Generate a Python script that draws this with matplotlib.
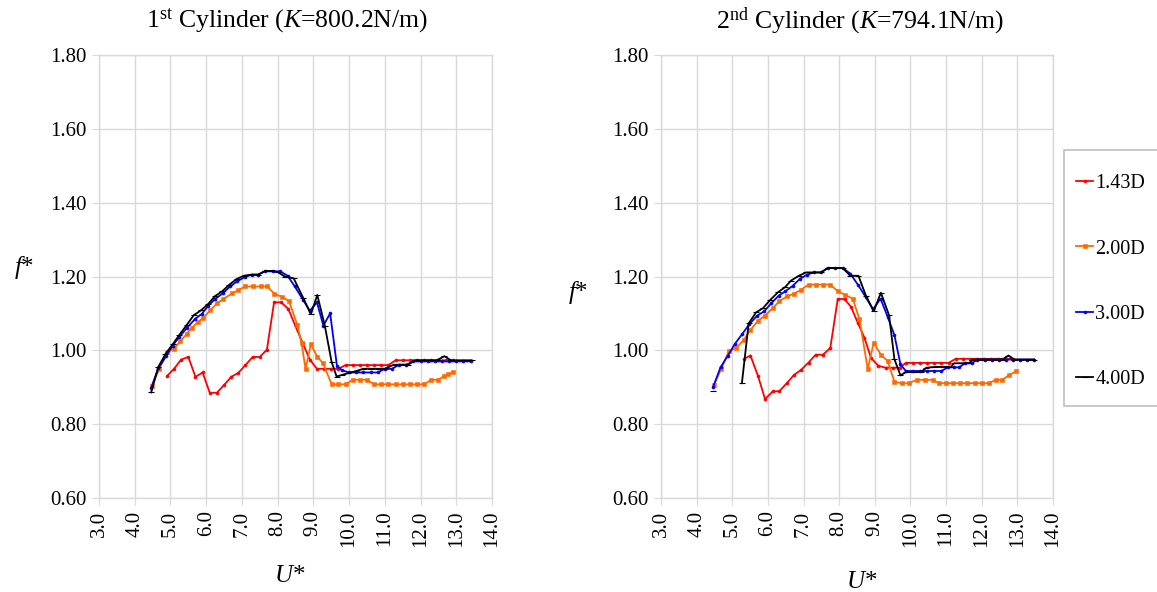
"""Natural frequency ratio f* vs reduced velocity U* for two cylinders."""

import matplotlib

matplotlib.use("Agg")
import matplotlib.pyplot as plt
import numpy as np
from matplotlib.patches import Rectangle

plt.rcParams["font.family"] = ["Liberation Serif", "DejaVu Serif"]
plt.rcParams["mathtext.fontset"] = "custom"
plt.rcParams["mathtext.rm"] = "Liberation Serif"
plt.rcParams["mathtext.it"] = "Liberation Serif:italic"

W, H = 1157, 592

LABELS = ["1.43D", "2.00D", "3.00D", "4.00D"]
TITLES = ["1$^{\\rm st}$ Cylinder ($K$=800.2N/m)", "2$^{\\rm nd}$ Cylinder ($K$=794.1N/m)"]
X_TICKS = [3.0, 4.0, 5.0, 6.0, 7.0, 8.0, 9.0, 10.0, 11.0, 12.0, 13.0, 14.0]
Y_TICKS = [0.60, 0.80, 1.00, 1.20, 1.40, 1.60, 1.80]

# ---- 1st cylinder ----
u_red_1 = [4.9, 5.1, 5.3, 5.5, 5.7, 5.9, 6.1, 6.3, 6.5, 6.7, 6.9, 7.1, 7.3, 7.5, 7.7, 7.9, 8.1, 8.3, 8.5, 8.7,
           8.9, 9.1, 9.3, 9.5, 9.7, 9.9, 10.1, 10.3, 10.5, 10.7, 10.9, 11.1, 11.3, 11.5, 11.7, 11.9, 12.1, 12.3,
           12.5, 12.7, 12.9]
f_red_1 = [0.930, 0.950, 0.975, 0.982, 0.928, 0.940, 0.885, 0.885, 0.906, 0.928, 0.939, 0.960, 0.982, 0.982,
           1.002, 1.130, 1.130, 1.112, 1.065, 1.020, 0.975, 0.950, 0.950, 0.950, 0.950, 0.960, 0.960, 0.960,
           0.960, 0.960, 0.960, 0.960, 0.973, 0.973, 0.973, 0.973, 0.973, 0.973, 0.973, 0.973, 0.973]

u_org_1 = [4.48, 4.69, 4.91, 5.10, 5.27, 5.46, 5.60, 5.76, 5.92, 6.11, 6.30, 6.48, 6.72, 6.90, 7.09, 7.32, 7.53,
           7.71, 7.91, 8.12, 8.32, 8.55, 8.67, 8.78, 8.93, 9.11, 9.27, 9.51, 9.69, 9.90, 10.10, 10.30, 10.50,
           10.70, 10.90, 11.10, 11.30, 11.50, 11.70, 11.90, 12.10, 12.30, 12.50, 12.65, 12.78, 12.90]
f_org_1 = [0.904, 0.950, 0.995, 1.004, 1.024, 1.045, 1.061, 1.076, 1.088, 1.108, 1.127, 1.139, 1.154, 1.163,
           1.173, 1.173, 1.173, 1.173, 1.153, 1.145, 1.133, 1.069, 1.019, 0.950, 1.016, 0.983, 0.965, 0.908,
           0.908, 0.908, 0.920, 0.920, 0.920, 0.908, 0.908, 0.908, 0.908, 0.908, 0.908, 0.908, 0.908, 0.920,
           0.920, 0.930, 0.935, 0.940]

u_blu_1 = [4.46, 4.66, 4.88, 5.06, 5.25, 5.46, 5.69, 5.88, 6.06, 6.25, 6.46, 6.67, 6.87, 7.09, 7.28, 7.46, 7.65,
           7.87, 8.07, 8.28, 8.48, 8.71, 8.90, 9.10, 9.28, 9.47, 9.66, 9.80, 10.00, 10.20, 10.40, 10.60, 10.80,
           11.00, 11.20, 11.40, 11.60, 11.80, 12.00, 12.20, 12.40, 12.60, 12.80, 13.00, 13.20, 13.42]
f_blu_1 = [0.898, 0.952, 0.984, 1.013, 1.036, 1.061, 1.085, 1.099, 1.121, 1.139, 1.154, 1.173, 1.187, 1.199,
           1.205, 1.205, 1.214, 1.214, 1.214, 1.202, 1.173, 1.137, 1.107, 1.130, 1.067, 1.100, 0.958, 0.946,
           0.940, 0.940, 0.940, 0.940, 0.940, 0.950, 0.950, 0.961, 0.961, 0.970, 0.970, 0.970, 0.970, 0.970,
           0.970, 0.970, 0.970, 0.970]

u_blk_1 = [4.46, 4.66, 4.86, 5.06, 5.25, 5.45, 5.65, 5.85, 6.05, 6.25, 6.45, 6.65, 6.85, 7.05, 7.25, 7.45, 7.65,
           7.85, 8.00, 8.20, 8.45, 8.71, 8.93, 9.11, 9.32, 9.51, 9.65, 9.79, 9.97, 10.20, 10.40, 10.60, 10.80,
           11.00, 11.25, 11.45, 11.65, 11.85, 12.05, 12.25, 12.45, 12.67, 12.85, 13.05, 13.25, 13.43]
f_blk_1 = [0.886, 0.955, 0.990, 1.016, 1.042, 1.068, 1.095, 1.108, 1.125, 1.147, 1.160, 1.178, 1.193, 1.202,
           1.205, 1.205, 1.215, 1.215, 1.212, 1.200, 1.195, 1.143, 1.098, 1.150, 1.067, 0.969, 0.929, 0.933,
           0.938, 0.944, 0.950, 0.950, 0.950, 0.950, 0.961, 0.961, 0.961, 0.973, 0.973, 0.973, 0.973, 0.984,
           0.973, 0.973, 0.973, 0.973]

# ---- 2nd cylinder ----
u_red_2 = [5.33, 5.51, 5.72, 5.92, 6.14, 6.32, 6.53, 6.73, 6.93, 7.14, 7.34, 7.54, 7.75, 7.96, 8.15, 8.33, 8.52,
           8.71, 8.89, 9.10, 9.30, 9.50, 9.70, 9.87, 10.07, 10.27, 10.47, 10.67, 10.87, 11.07, 11.27, 11.47,
           11.67, 11.87, 12.07, 12.27, 12.47, 12.67, 12.87]
f_red_2 = [0.977, 0.986, 0.931, 0.868, 0.889, 0.889, 0.911, 0.933, 0.947, 0.967, 0.988, 0.988, 1.006, 1.139,
           1.139, 1.118, 1.075, 1.034, 0.980, 0.958, 0.953, 0.953, 0.953, 0.966, 0.966, 0.966, 0.966, 0.966,
           0.966, 0.966, 0.977, 0.977, 0.977, 0.977, 0.977, 0.977, 0.977, 0.977, 0.977]

u_org_2 = [4.49, 4.69, 4.90, 5.11, 5.32, 5.51, 5.72, 5.92, 6.14, 6.32, 6.53, 6.73, 6.93, 7.14, 7.34, 7.54, 7.75,
           7.96, 8.15, 8.38, 8.57, 8.80, 8.97, 9.17, 9.36, 9.55, 9.75, 9.95, 10.18, 10.40, 10.62, 10.80, 11.00,
           11.20, 11.40, 11.60, 11.80, 12.00, 12.20, 12.39, 12.58, 12.77, 12.96]
f_org_2 = [0.907, 0.950, 0.997, 1.006, 1.028, 1.055, 1.080, 1.094, 1.115, 1.133, 1.146, 1.153, 1.164, 1.178,
           1.178, 1.178, 1.178, 1.160, 1.151, 1.140, 1.084, 0.950, 1.020, 0.988, 0.971, 0.915, 0.911, 0.911,
           0.920, 0.920, 0.920, 0.911, 0.911, 0.911, 0.911, 0.911, 0.911, 0.911, 0.911, 0.920, 0.920, 0.933,
           0.943]

u_blu_2 = [4.46, 4.67, 4.88, 5.07, 5.27, 5.48, 5.70, 5.90, 6.09, 6.30, 6.49, 6.70, 6.89, 7.10, 7.29, 7.49, 7.68,
           7.89, 8.10, 8.31, 8.53, 8.74, 8.95, 9.16, 9.36, 9.55, 9.72, 9.87, 10.07, 10.27, 10.47, 10.67, 10.87,
           11.05, 11.22, 11.37, 11.53, 11.72, 11.88, 12.08, 12.28, 12.48, 12.68, 12.88, 13.08, 13.28, 13.47]
f_blu_2 = [0.900, 0.954, 0.986, 1.017, 1.043, 1.071, 1.094, 1.106, 1.127, 1.148, 1.160, 1.175, 1.193, 1.205,
           1.211, 1.211, 1.223, 1.223, 1.223, 1.208, 1.177, 1.145, 1.111, 1.140, 1.091, 1.041, 0.962, 0.944,
           0.944, 0.944, 0.944, 0.944, 0.944, 0.954, 0.954, 0.954, 0.965, 0.965, 0.975, 0.975, 0.975, 0.975,
           0.975, 0.975, 0.975, 0.975, 0.975]

# first point is isolated (no data between 4.5 and 5.3)
u_blk_2 = [4.46, np.nan, 5.27, 5.46, 5.67, 5.86, 6.07, 6.28, 6.48, 6.65, 6.87, 7.07, 7.29, 7.49, 7.68, 7.89,
           8.10, 8.31, 8.54, 8.75, 8.97, 9.17, 9.40, 9.55, 9.72, 9.87, 10.08, 10.29, 10.45, 10.70, 10.92, 11.13,
           11.23, 11.44, 11.65, 11.74, 11.95, 12.16, 12.37, 12.58, 12.75, 12.91, 13.10, 13.29, 13.47]
f_blk_2 = [0.889, np.nan, 0.911, 1.073, 1.103, 1.114, 1.137, 1.157, 1.171, 1.189, 1.202, 1.211, 1.211, 1.211,
           1.223, 1.223, 1.223, 1.202, 1.202, 1.148, 1.106, 1.156, 1.095, 0.976, 0.932, 0.941, 0.941, 0.941,
           0.953, 0.955, 0.955, 0.955, 0.965, 0.965, 0.965, 0.975, 0.975, 0.975, 0.975, 0.975, 0.986, 0.975,
           0.975, 0.975, 0.975]

PANELS = [
    [(u_red_1, f_red_1), (u_org_1, f_org_1), (u_blu_1, f_blu_1), (u_blk_1, f_blk_1)],
    [(u_red_2, f_red_2), (u_org_2, f_org_2), (u_blu_2, f_blu_2), (u_blk_2, f_blk_2)],
]

COLORS = ["#FF0000", "#FF6A00", "#0000FF", "#000000"]
MARKERS = ["o", "s", "o", "_"]
MSIZES = [2.2, 2.4, 2.2, 4.5]
GRID = "#D9D9D9"


def px_rect(x0, x1, y0, y1):
    return [x0 / W, 1 - y1 / H, (x1 - x0) / W, (y1 - y0) / H]


def draw_panel(ax, series):
    handles = []
    for (u, f), c, m, ms in zip(series, COLORS, MARKERS, MSIZES):
        (ln,) = ax.plot(u, f, color=c, marker=m, markersize=ms, linewidth=1.3,
                        markeredgewidth=0.8 if m == "_" else 0.4, zorder=3)
        handles.append(ln)
    ax.set_xlim(3, 14)
    ax.set_ylim(0.6, 1.8)
    ax.set_xticks(X_TICKS)
    ax.set_xticklabels([f"{v:.1f}" for v in X_TICKS], rotation=90)
    ax.set_yticks(Y_TICKS)
    ax.set_yticklabels([f"{v:.2f}" for v in Y_TICKS])
    ax.grid(True, color=GRID, linewidth=1.0)
    ax.set_axisbelow(True)
    for sp in ax.spines.values():
        sp.set_color(GRID)
        sp.set_linewidth(1.0)
    ax.tick_params(length=5, color=GRID, labelsize=15, pad=4)
    return handles


fig = plt.figure(figsize=(W / 100, H / 100), dpi=100)
ax1 = fig.add_axes(px_rect(99, 492, 55, 498))
ax2 = fig.add_axes(px_rect(661, 1053, 55, 498))

handles = draw_panel(ax1, PANELS[0])
draw_panel(ax2, PANELS[1])

fig.text(287 / W, 1 - 21 / H, TITLES[0], ha="center", va="center", fontsize=18.5)
fig.text(860 / W, 1 - 21 / H, TITLES[1], ha="center", va="center", fontsize=18.5)
fig.text(24 / W, 1 - 268 / H, "$f$*", ha="center", va="center", fontsize=18)
fig.text(578 / W, 1 - 293 / H, "$f$*", ha="center", va="center", fontsize=18)
fig.text(290 / W, 1 - 576 / H, "$U$*", ha="center", va="center", fontsize=18)
fig.text(862 / W, 1 - 582 / H, "$U$*", ha="center", va="center", fontsize=18)

# legend box runs off the right edge of the figure, as in the source
fig.patches.append(Rectangle((1064 / W, 1 - 406 / H), 110 / W, 256 / H, transform=fig.transFigure,
                             facecolor="white", edgecolor="#BFBFBF", linewidth=1.2, zorder=1))
fig.legend(handles, LABELS, loc="upper left", bbox_to_anchor=(1076 / W, 1 - 174 / H),
           frameon=False, fontsize=14.5, handlelength=0.85, handletextpad=0.1, labelspacing=2.3,
           borderpad=0, borderaxespad=0)

fig.savefig("out.png", dpi=100)
plt.close(fig)
